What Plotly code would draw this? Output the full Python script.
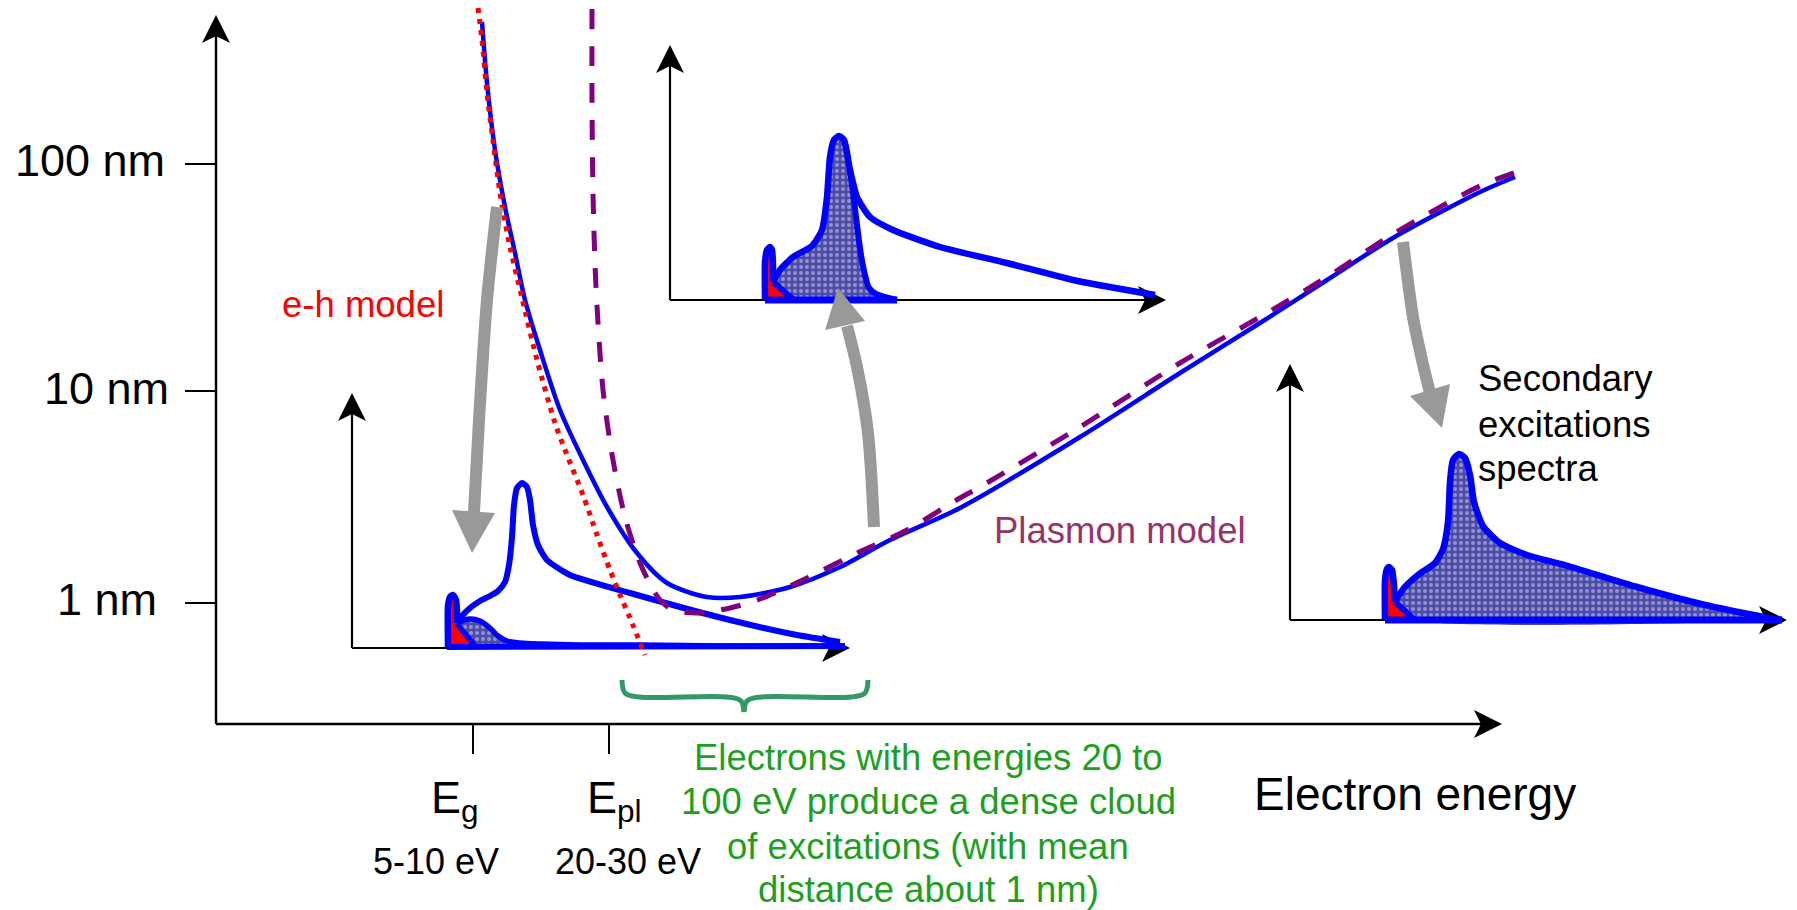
import math
import plotly.graph_objects as go

W, H = 1797, 910
FONT = "Arial, Liberation Sans, sans-serif"

# ---------------- main chart frame (diagram coordinates, y grows downward) ----------------
MAIN_ORIGIN = (216, 724)
MAIN_Y_TIP = 15
MAIN_X_TIP = 1502

Y_TICK_LABELS = ["100 nm", "10 nm", "1 nm"]
Y_TICK_POS = [164, 391, 603]
Y_LABEL_RIGHT = [167, 171, 159]
Y_LABEL_Y = [160, 388, 599]

X_TICK_LABELS = ["E<sub>g</sub>", "E<sub>pl</sub>"]
X_TICK_POS = [473, 609]
X_LABEL_X = [455, 614]
X_RANGE_LABELS = ["5-10 eV", "20-30 eV"]
X_RANGE_X = [436, 628]

# ---------------- curves of the main chart ----------------
TOTAL_X = [482, 487, 495, 505, 515, 525, 540, 560, 583, 607, 637, 667, 707, 740, 790, 840, 890,
           960, 1080, 1180, 1260, 1327, 1393, 1480, 1515]
TOTAL_Y = [22, 83, 150, 207, 253, 300, 350, 410, 460, 507, 553, 583, 597, 597, 587, 567, 540,
           508, 437, 373, 323, 280, 238, 192, 177]

EH_X = [478, 482, 487, 492, 500, 510, 522, 537, 555, 565, 583, 597, 610, 620, 630, 645]
EH_Y = [8, 40, 93, 133, 193, 247, 298, 360, 423, 450, 495, 535, 570, 595, 618, 655]

PLASMON_X = [592, 592, 593, 596, 603, 613, 625, 640, 655, 663, 673, 697, 730, 763, 807, 857, 907,
             960, 980, 1080, 1180, 1260, 1327, 1393, 1480, 1519]
PLASMON_Y = [9, 100, 193, 287, 390, 460, 517, 563, 593, 603, 610, 613, 608, 598, 578, 553, 530,
             498, 487, 427, 363, 317, 277, 234, 186, 171]

# ---------------- left inset spectrum ----------------
L_ORIGIN = (352, 648)
L_Y_TIP = 393
L_X_TIP = 850
L_SPIKE_X = [448, 448, 450, 453, 456, 457, 457]
L_SPIKE_Y = [647, 606, 597, 595, 600, 612, 623]
L_OUT_X = [457, 462, 470, 480, 490, 498, 505, 509, 512, 514, 517, 522, 527, 530, 533, 538, 547,
           570, 630, 730, 797, 840]
L_OUT_Y = [623, 616, 608, 601, 596, 591, 582, 565, 537, 505, 488, 483, 487, 500, 525, 545, 560,
           575, 593, 620, 635, 642]
L_HUMP_X = [457, 462, 470, 480, 490, 498, 507, 520, 540, 580, 640, 720, 845]
L_HUMP_Y = [624, 621, 619, 621, 628, 636, 641, 643, 644, 645, 645, 646, 646]
L_RED_X = [448, 448, 451, 455, 457, 458, 476]
L_RED_Y = [647, 602, 596, 600, 612, 624, 647]
L_BASE_X = [447, 845]

# ---------------- top inset spectrum ----------------
T_ORIGIN = (670, 300)
T_Y_TIP = 45
T_X_TIP = 1166
T_SPIKE_X = [765, 765, 767, 770, 772, 773, 773]
T_SPIKE_Y = [300, 262, 250, 247, 250, 265, 282]
T_OUT_X = [773, 780, 793, 812, 822, 827, 830, 834, 839, 844, 850, 857, 870, 893, 940, 1007, 1073, 1155]
T_OUT_Y = [282, 270, 257, 246, 230, 197, 157, 140, 136, 140, 170, 197, 217, 230, 247, 263, 280, 295]
T_EDGE_X = [850, 854, 857, 861, 865, 869, 876, 897]
T_EDGE_Y = [170, 200, 225, 255, 275, 288, 294, 300]
T_RED_X = [765, 765, 767, 770, 773, 773, 794]
T_RED_Y = [300, 258, 249, 247, 262, 282, 300]
T_BASE_X = [765, 897]

# ---------------- right inset spectrum ----------------
R_ORIGIN = (1290, 620)
R_Y_TIP = 364
R_X_TIP = 1787
R_SPIKE_X = [1385, 1385, 1387, 1389, 1392, 1394, 1395]
R_SPIKE_Y = [620, 580, 569, 567, 570, 585, 602]
R_OUT_X = [1395, 1404, 1418, 1435, 1443, 1448, 1450, 1453, 1459, 1465, 1470, 1474, 1483, 1500,
           1527, 1568, 1637, 1705, 1774, 1782]
R_OUT_Y = [602, 588, 575, 563, 549, 522, 482, 460, 454, 458, 475, 502, 526, 543, 555, 566, 587,
           605, 619, 620]
R_RED_X = [1385, 1385, 1389, 1393, 1395, 1415]
R_RED_Y = [620, 578, 567, 576, 602, 620]
R_BASE_X = [1385, 1782]

# ---------------- gray arrows ----------------
GA_LEFT_X = [497, 487, 479, 474]
GA_LEFT_Y = [207, 300, 420, 512]
GA_LEFT_HEAD_X = [452, 495, 472]
GA_LEFT_HEAD_Y = [510, 513, 553]
GA_MID_X = [874, 868, 857, 847]
GA_MID_Y = [527, 433, 367, 326]
GA_MID_HEAD_X = [825, 865, 838]
GA_MID_HEAD_Y = [330, 321, 288]
GA_RIGHT_X = [1403, 1413, 1422, 1430]
GA_RIGHT_Y = [242, 317, 360, 393]
GA_RIGHT_HEAD_X = [1410, 1450, 1442]
GA_RIGHT_HEAD_Y = [396, 384, 428]

# ---------------- brace ----------------
BRACE_L_X = [622, 625, 639, 727, 741, 744]
BRACE_L_Y = [680, 693, 697, 697, 701, 712]
BRACE_R_X = [744, 747, 761, 851, 865, 868]
BRACE_R_Y = [712, 701, 697, 697, 693, 680]

GREEN_TEXT = ["Electrons with energies 20 to", "100 eV produce a dense cloud",
              "of excitations (with mean", "distance about 1 nm)"]
GREEN_TEXT_X = 928
GREEN_TEXT_Y = [757, 801, 846, 889]

SEC_TEXT = ["Secondary", "excitations", "spectra"]
SEC_TEXT_X = 1476
SEC_TEXT_Y = [378, 424, 468]

BLUE = "#0000ff"
HATCH = dict(shape=".", bgcolor="#4c4ca8", fgcolor="#dcdcf2", size=6, solidity=0.35)

fig = go.Figure()


def line(x, y, color, width, dash="solid", shape="spline", smoothing=0.8):
    fig.add_trace(go.Scatter(x=x, y=y, mode="lines", hoverinfo="skip",
                             line=dict(color=color, width=width, dash=dash, shape=shape,
                                       smoothing=smoothing)))


def area(x, y, color=None, pattern=None, shape="spline", smoothing=0.6):
    kw = dict(x=x, y=y, mode="lines", fill="toself", hoverinfo="skip",
              line=dict(width=0, color="rgba(0,0,0,0)", shape=shape, smoothing=smoothing))
    if pattern:
        kw["fillpattern"] = pattern
        kw["fillcolor"] = pattern["bgcolor"]
    else:
        kw["fillcolor"] = color
    fig.add_trace(go.Scatter(**kw))


def arrowhead(tip, direction, length=28, half=14, notch=7):
    dx, dy = direction
    n = math.hypot(dx, dy)
    dx, dy = dx / n, dy / n
    px, py = -dy, dx
    bx, by = tip[0] - dx * length, tip[1] - dy * length
    nx, ny = tip[0] - dx * (length - notch), tip[1] - dy * (length - notch)
    xs = [tip[0], bx + px * half, nx, bx - px * half, tip[0]]
    ys = [tip[1], by + py * half, ny, by - py * half, tip[1]]
    area(xs, ys, color="black", shape="linear")


def axes(origin, ytip, xtip, width=2.2):
    ox, oy = origin
    line([ox, ox], [oy, ytip + 10], "black", width, shape="linear")
    line([ox, xtip - 10], [oy, oy], "black", width, shape="linear")
    arrowhead((ox, ytip), (0, -1))
    arrowhead((xtip, oy), (1, 0))


# ---- main axes ----
axes(MAIN_ORIGIN, MAIN_Y_TIP, MAIN_X_TIP, width=2.4)
for yp in Y_TICK_POS:
    line([185, MAIN_ORIGIN[0]], [yp, yp], "black", 2, shape="linear")
for xp in X_TICK_POS:
    line([xp, xp], [MAIN_ORIGIN[1], MAIN_ORIGIN[1] + 30], "black", 2, shape="linear")

# ---- inset axes ----
axes(L_ORIGIN, L_Y_TIP, L_X_TIP)
axes(T_ORIGIN, T_Y_TIP, T_X_TIP)
axes(R_ORIGIN, R_Y_TIP, R_X_TIP)

# ---- left inset spectrum ----
area(L_HUMP_X[:9] + [476, 457], L_HUMP_Y[:9] + [647, 624], pattern=HATCH)
area(L_RED_X, L_RED_Y, color="#ff0000", shape="linear")
line(L_BASE_X, [647, 646], BLUE, 6, shape="linear")
line(L_HUMP_X, L_HUMP_Y, BLUE, 5.5)
line([457, 476], [624, 647], BLUE, 5.5, shape="linear")
line(L_SPIKE_X, L_SPIKE_Y, BLUE, 6.5, smoothing=0.5)
line(L_OUT_X, L_OUT_Y, BLUE, 6, smoothing=0.6)

# ---- top inset spectrum ----
area(T_OUT_X[:11] + T_EDGE_X[1:] + [794], T_OUT_Y[:11] + T_EDGE_Y[1:] + [300], pattern=HATCH)
area(T_RED_X, T_RED_Y, color="#ff0000", shape="linear")
line(T_BASE_X, [300, 300], BLUE, 7, shape="linear")
line(T_EDGE_X, T_EDGE_Y, BLUE, 6)
line([773, 794], [282, 300], BLUE, 6, shape="linear")
line(T_SPIKE_X, T_SPIKE_Y, BLUE, 6.5, smoothing=0.5)
line(T_OUT_X, T_OUT_Y, BLUE, 6.5, smoothing=0.6)

# ---- right inset spectrum ----
area(R_OUT_X + [1415, 1395], R_OUT_Y + [620, 602], pattern=HATCH)
area(R_RED_X, R_RED_Y, color="#ff0000", shape="linear")
line(R_BASE_X, [620, 620], BLUE, 7, shape="linear")
line([1395, 1415], [602, 620], BLUE, 6, shape="linear")
line(R_SPIKE_X, R_SPIKE_Y, BLUE, 6.5, smoothing=0.5)
line(R_OUT_X, R_OUT_Y, BLUE, 6.5, smoothing=0.6)

# ---- main curves ----
line(TOTAL_X, TOTAL_Y, BLUE, 4.5)
line(PLASMON_X, PLASMON_Y, "#800080", 5, dash="20px,17px")
line(EH_X, EH_Y, "#ff0000", 5, dash="5px,6px")

# ---- gray arrows ----
for gx, gy, hx, hy in [(GA_LEFT_X, GA_LEFT_Y, GA_LEFT_HEAD_X, GA_LEFT_HEAD_Y),
                       (GA_MID_X, GA_MID_Y, GA_MID_HEAD_X, GA_MID_HEAD_Y),
                       (GA_RIGHT_X, GA_RIGHT_Y, GA_RIGHT_HEAD_X, GA_RIGHT_HEAD_Y)]:
    line(gx, gy, "#999999", 12)
    area(hx + [hx[0]], hy + [hy[0]], color="#999999", shape="linear")

# ---- brace ----
line(BRACE_L_X, BRACE_L_Y, "#339966", 5, smoothing=1)
line(BRACE_R_X, BRACE_R_Y, "#339966", 5, smoothing=1)

# ---- text ----
ann = []
for lab, xr, yc in zip(Y_TICK_LABELS, Y_LABEL_RIGHT, Y_LABEL_Y):
    ann.append(dict(x=xr, y=yc, text=lab, xanchor="right", yanchor="middle",
                    font=dict(size=45, color="black", family=FONT)))
for lab, xc in zip(X_TICK_LABELS, X_LABEL_X):
    ann.append(dict(x=xc, y=800, text=lab, xanchor="center", yanchor="middle",
                    font=dict(size=45, color="black", family=FONT)))
for lab, xc in zip(X_RANGE_LABELS, X_RANGE_X):
    ann.append(dict(x=xc, y=861, text=lab, xanchor="center", yanchor="middle",
                    font=dict(size=36, color="black", family=FONT)))
ann.append(dict(x=1415, y=794, text="Electron energy", xanchor="center", yanchor="middle",
                font=dict(size=46, color="black", family=FONT)))
for t, yc in zip(GREEN_TEXT, GREEN_TEXT_Y):
    ann.append(dict(x=GREEN_TEXT_X, y=yc, text=t, xanchor="center", yanchor="middle",
                    font=dict(size=36.5, color="#1f9f1f", family=FONT)))
for t, yc in zip(SEC_TEXT, SEC_TEXT_Y):
    ann.append(dict(x=SEC_TEXT_X, y=yc, text=t, xanchor="left", yanchor="middle",
                    font=dict(size=36.5, color="black", family=FONT)))
ann.append(dict(x=363, y=304, text="e-h model", xanchor="center", yanchor="middle",
                font=dict(size=36.5, color="#ff0000", family=FONT)))
ann.append(dict(x=1120, y=530, text="Plasmon model", xanchor="center", yanchor="middle",
                font=dict(size=36.5, color="#993366", family=FONT)))
for a in ann:
    a.update(xref="x", yref="y", showarrow=False)

fig.update_layout(
    width=W, height=H, margin=dict(l=0, r=0, t=0, b=0),
    paper_bgcolor="white", plot_bgcolor="white", showlegend=False,
    xaxis=dict(range=[0, W], visible=False, fixedrange=True),
    yaxis=dict(range=[H, 0], visible=False, fixedrange=True),
    annotations=ann,
)

fig.write_html("out.html", config={"displayModeBar": False})
